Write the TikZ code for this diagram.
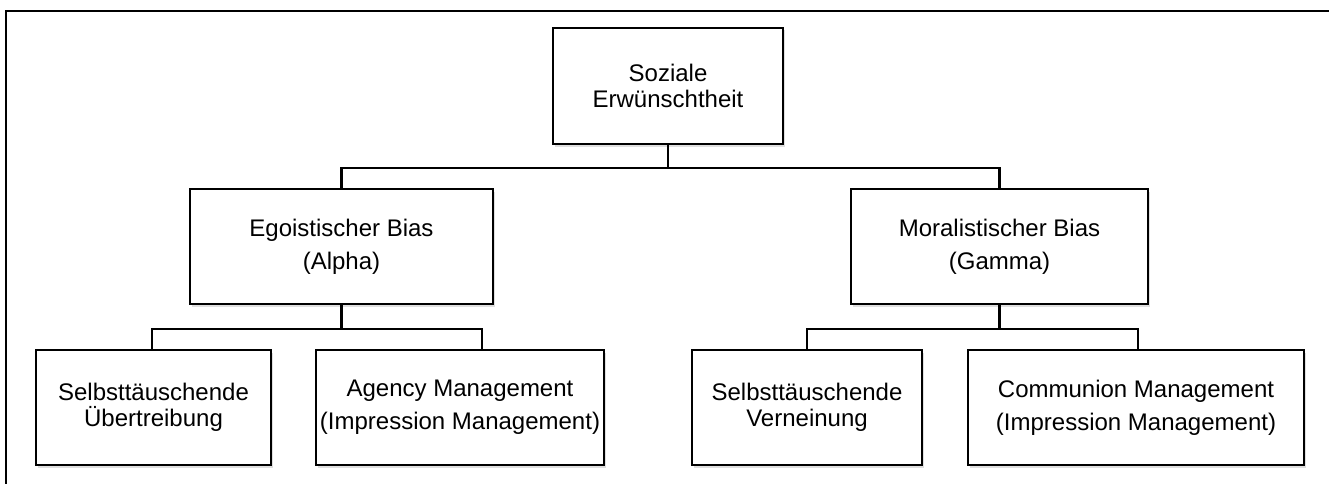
\documentclass[tikz,border=0pt]{standalone}
\usepackage{fontspec}
\setmainfont{Liberation Sans}
\usepackage{tikz}
\usetikzlibrary{positioning, calc, shadows}

\begin{document}
\begin{tikzpicture}[
  x=1pt, y=-1pt,
  catnode/.style={draw, rectangle, line width=1.6pt, fill=white, minimum height=115pt, inner sep=2pt, align=center, font=\fontsize{24}{26}\selectfont, drop shadow={shadow xshift=1.5pt, shadow yshift=-2.5pt, opacity=0.25}},
  tree/.style={line width=2.6pt, black},
  frame/.style={line width=2.6pt, black}
]

% canvas and outer frame
\clip (0,0) rectangle (1329,484);
\fill[white] (0,0) rectangle (1329,484);
\draw[frame] (6,11) rectangle (1340,500);

% top level
\node[catnode, minimum width=230pt, minimum height=116pt] (SozE) at (668,86) {Soziale\\Erwünschtheit};

% second level
\node[catnode, minimum width=303pt] (EgoB) at (341.5,246.5) {Egoistischer Bias\\[7pt](Alpha)};
\node[catnode, minimum width=297pt] (MorB) at (999.5,246.5) {Moralistischer Bias\\[7pt](Gamma)};

% third level
\node[catnode, minimum width=235pt] (SelbU) at (153.5,407.5) {Selbsttäuschende\\Übertreibung};
\node[catnode, minimum width=288pt] (AgeM)  at (460,407.5)   {Agency Management\\[7pt](Impression Management)};
\node[catnode, minimum width=230pt] (SelbV) at (807,407.5)   {Selbsttäuschende\\Verneinung};
\node[catnode, minimum width=336pt] (ComM)  at (1136,407.5)  {Communion Management\\[7pt](Impression Management)};

% tree lines
\draw[tree] (SozE.south) -- ++(0,23) -| (EgoB.north);
\draw[tree] (SozE.south) -- ++(0,23) -| (MorB.north);
\draw[tree] (EgoB.south) -- ++(0,24) -| ([xshift=-1.5pt]SelbU.north);
\draw[tree] (EgoB.south) -- ++(0,24) -| ([xshift=22pt]AgeM.north);
\draw[tree] (MorB.south) -- ++(0,24) -| (SelbV.north);
\draw[tree] (MorB.south) -- ++(0,24) -| ([xshift=2pt]ComM.north);

\end{tikzpicture}
\end{document}
